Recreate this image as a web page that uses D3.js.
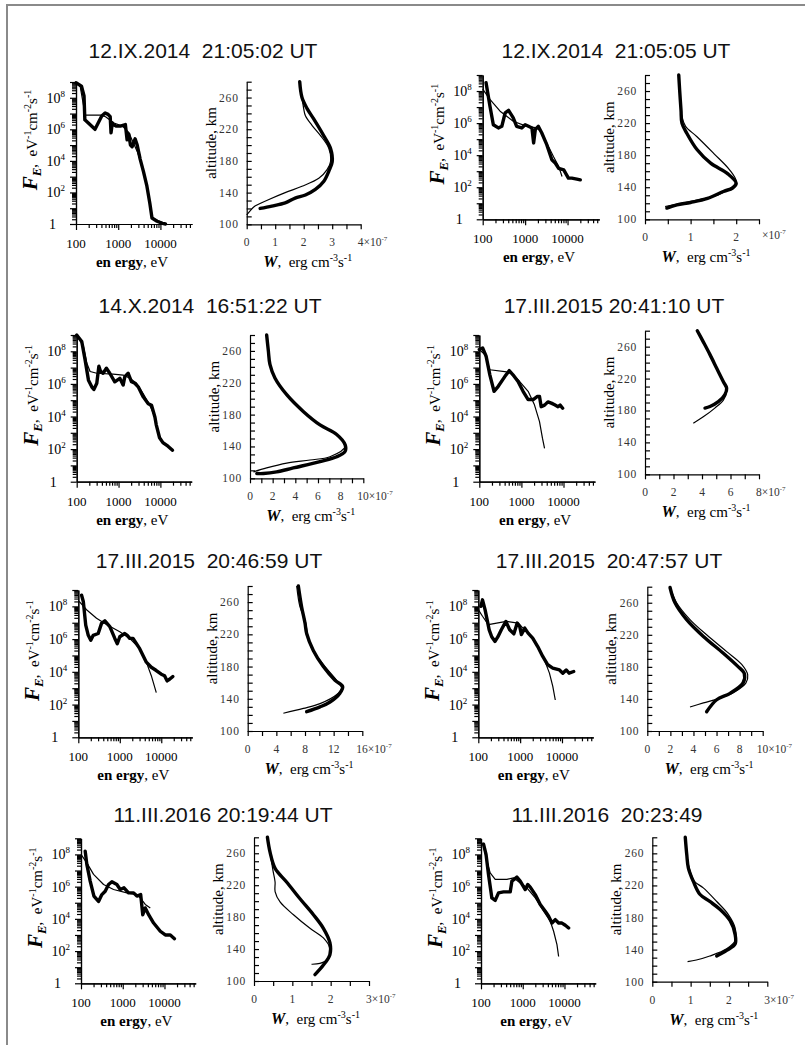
<!DOCTYPE html>
<html><head><meta charset="utf-8">
<script src="https://cdn.jsdelivr.net/npm/d3@7"></script>
<style>body{margin:0;background:#fff}svg{display:block}text{white-space:pre}</style>
</head><body>
<svg id="c" width="809" height="1061"></svg>
<script>
// ---------- DATA (energy eV, flux eV^-1 cm^-2 s^-1 ; W in 1e-7 erg cm^-3 s^-1, altitude km) ----------
const titles = ["12.IX.2014  21:05:02 UT","12.IX.2014  21:05:05 UT","14.X.2014  16:51:22 UT","17.III.2015 20:41:10 UT",
  "17.III.2015  20:46:59 UT","17.III.2015  20:47:57 UT","11.III.2016 20:19:44 UT","11.III.2016  20:23:49"];
const energyTickLabels = [100, 1000, 10000];
const fluxTickExponents = [0, 2, 4, 6, 8];
const altTickLabels = [100, 140, 180, 220, 260];
const wAxisMax = [4, 2.5, 10, 8, 16, 10, 3, 3];
const wTickStep = [0.5, 0.5, 1, 1, 2, 1, 0.5, 0.5];
const wLabelStep = [1, 1, 2, 2, 4, 2, 1, 1];

const spec1Thick = [[100,8.9e8],[135,5.5e8],[155,1.3e8],[162,4.0e6],[282,1.0e6],[407,6.9e6],[490,1.1e7],[575,8.9e6],[646,6.3e6],[676,6.0e5],[724,2.5e6],[776,2.0e6],[891,1.6e6],[1122,1.6e6],[1479,2.0e6],[1622,2.2e5],[1778,5.0e5],[1950,1.0e5],[2138,7.9e4],[2512,2.5e5],[2818,1.0e5],[3311,1.3e4],[3981,2.0e3],[4786,250],[5623,20],[6310,2.4],[8318,1.5],[11200,1.1],[13200,1]];
const spec1Thin = [[100,8.9e8],[126,5.0e8],[158,1.6e7],[166,7.9e6],[398,7.9e6],[501,6.3e6],[794,2.5e6],[1259,1.6e6],[1778,6.3e5],[2239,1.6e5],[2818,4.0e4],[3548,6.3e3],[4467,630],[5623,16],[6310,2.5],[8913,1.6],[13200,1]];
const alt1Thick = [[1.86,280],[1.94,260],[2.12,246],[2.35,233],[2.7,212],[2.94,196],[3.0,179],[2.88,167],[2.7,154],[2.41,144],[2.06,137],[1.7,133],[1.35,127],[0.88,123],[0.47,120]];
const alt1Thin = [[1.86,280],[1.94,260],[2.0,246],[2.06,237],[2.29,225],[2.59,212],[2.88,196],[2.94,179],[2.82,169],[2.53,158],[1.94,148],[1.35,140],[0.76,131],[0.29,123],[0.12,117],[0,112]];

const spec2Thick = [[120,3.3e8],[148,1.15e7],[178,7.9e5],[234,5.0e5],[282,6.3e5],[339,4.4e6],[407,6.3e6],[525,2.1e6],[631,6.3e5],[832,5.0e5],[1000,7.9e5],[1202,6.3e5],[1445,5.0e5],[1585,5.8e4],[1738,4.0e5],[2042,6.3e5],[2455,2.5e5],[3236,4.5e4],[4266,5.2e3],[5129,3.2e3],[6166,1.5e3],[8128,1.2e3],[10470,370],[12590,370],[16600,320],[19950,290]];
const spec2Thin = [[100,1.3e8],[148,3.0e7],[257,5.5e6],[525,1.3e6],[1096,6.3e5],[1905,5.0e5],[2455,2.5e5],[3236,5.8e4],[4677,7.9e3],[6166,2.0e3],[7413,470]];
const alt2Thick = [[0.74,280],[0.76,261],[0.79,236],[0.81,220],[0.92,207],[1.14,187],[1.44,170],[1.81,157],[2.0,145],[1.92,139],[1.73,135],[1.37,126],[1.0,121],[0.7,118],[0.48,114]];
const alt2Thin = [[0.74,280],[0.77,253],[0.81,228],[0.89,216],[1.14,203],[1.51,182],[1.85,162],[2.0,147],[1.88,139],[1.59,130],[1.14,124],[0.63,118],[0.44,116]];

const spec3Thick = [[100,1.0e9],[132,4.0e8],[158,3.2e7],[191,1.7e6],[229,6.6e5],[257,4.5e5],[302,1.1e6],[339,1.2e7],[372,5.8e6],[427,4.5e6],[513,9.1e6],[617,4.5e6],[813,1.35e6],[1072,2.2e6],[1288,8.5e5],[1413,2.8e6],[1698,4.5e6],[2042,1.35e6],[2455,1.1e6],[2951,6.6e5],[3890,1.6e5],[5129,6.0e4],[6166,4.8e4],[7413,8.9e3],[7943,3.2e3],[9550,500],[11480,250],[15140,150],[19500,85]];
const spec3Thin = [[100,1.0e9],[145,2.0e8],[174,1.9e7],[209,5.8e6],[302,4.5e6],[741,4.0e6],[1288,3.5e6],[1862,2.2e6],[2692,1.1e6],[3890,2.5e5],[5623,4.8e4],[7413,8.9e3],[7943,3.2e3]];
const alt3Thick = [[1.47,280],[1.62,260],[1.76,243],[2.2,226],[3.24,205],[4.7,184],[6.18,167],[7.65,155],[8.4,142],[8.4,134],[7.65,127],[6.18,121],[3.82,113],[2.35,108],[1.18,106],[0.6,106]];
const alt3Thin = [[1.47,280],[1.62,260],[1.76,243],[2.2,226],[3.24,205],[4.7,184],[6.18,167],[7.65,155],[8.4,140],[7.06,127],[5.3,123],[3.24,119],[1.47,113],[0.3,108]];

const spec4Thick = [[100,1.3e8],[120,1.6e8],[145,5.0e7],[178,3.6e6],[224,3.5e5],[282,7.1e5],[407,2.9e6],[513,6.5e6],[631,3.6e6],[832,1.4e6],[1096,3.5e5],[1445,1.1e5],[1905,1.1e5],[2399,1.7e5],[2692,1.7e5],[2951,4.0e4],[3548,5.0e4],[4266,7.9e4],[5129,6.6e4],[6166,5.2e4],[7413,4.0e4],[8318,5.0e4],[9550,3.2e4]];
const spec4Thin = [[100,1.3e8],[135,6.3e7],[178,7.4e6],[447,5.4e6],[575,4.7e6],[912,1.4e6],[1445,3.5e5],[2042,5.2e4],[2692,4.9e3],[3162,470],[3548,110]];
const alt4Thick = [[3.67,280],[4.09,266],[4.56,250],[5.03,233],[5.5,216],[5.73,208],[5.61,200],[5.15,191],[4.56,185],[4.21,183]];
const alt4Thin = [[3.67,280],[4.09,266],[4.56,250],[5.03,233],[5.61,212],[5.73,204],[5.5,193],[4.9,183],[4.09,172],[3.39,164]];

const spec5Thick = [[120,4.8e8],[132,2.0e8],[151,7.2e6],[174,1.7e6],[200,8.5e5],[229,1.7e6],[302,2.2e6],[363,9.1e6],[437,1.3e7],[575,5.8e6],[759,1.1e6],[871,5.2e5],[1000,1.4e6],[1318,2.2e6],[1514,1.7e6],[1738,1.1e6],[2089,1.1e6],[3020,2.6e5],[4365,3.9e4],[5754,1.9e4],[7586,1.2e4],[10000,7.2e3],[12020,5.8e3],[13800,2.8e3],[15850,3.5e3],[19050,5.2e3]];
const spec5Thin = [[105,2.0e8],[158,6.2e7],[275,1.9e7],[479,7.9e6],[1000,2.8e6],[1738,1.1e6],[3020,2.6e5],[4365,3.9e4],[5754,5.8e3],[7586,540]];
const alt5Thick = [[7.07,280],[7.53,254],[8.0,234],[8.23,221],[9.16,200],[10.56,180],[12.19,163],[13.26,155],[12.88,147],[11.49,136],[10.1,130],[8.23,124]];
const alt5Thin = [[6.84,280],[7.3,254],[8.0,238],[8.33,221],[8.47,213],[9.4,196],[10.8,180],[12.4,163],[13.1,153],[12.4,145],[10.1,134],[7.77,128],[4.98,122]];

const spec6Thick = [[115,1.0e8],[126,2.5e8],[145,6.3e7],[182,3.7e6],[209,1.4e6],[251,7.2e5],[295,1.4e6],[355,3.7e6],[457,1.2e7],[562,3.7e6],[708,2.1e6],[851,9.5e6],[977,6.0e6],[1072,1.9e6],[1288,4.7e6],[1549,2.3e6],[1995,1.15e6],[2630,3.5e5],[3467,8.7e4],[4571,2.7e4],[6026,1.7e4],[8710,1.3e4],[10470,8.3e3],[12590,1.3e4],[14790,8.3e3],[19050,1.05e4]];
const spec6Thin = [[100,6.3e7],[126,2.5e7],[174,7.6e6],[468,1.2e7],[891,9.5e6],[1288,3.7e6],[1995,1.15e6],[2884,2.2e5],[3802,5.4e4],[5012,8.3e3],[6026,1.3e3],[6918,190]];
const alt6Thick = [[1.97,279],[2.4,260],[3.41,239],[4.86,218],[6.59,197],[7.89,180],[8.4,172],[8.3,160],[7.17,147],[6.01,139],[5.14,124]];
const alt6Thin = [[1.97,279],[2.54,260],[3.7,239],[5.14,220],[6.88,199],[8.18,183],[8.7,170],[8.55,160],[7.6,149],[6.3,141],[4.86,135],[3.7,130]];

const spec7Thick = [[126,1.6e8],[138,2.4e7],[166,2.2e6],[204,2.6e5],[263,1.2e5],[316,3.2e5],[380,5.2e5],[457,1.35e6],[550,2.0e6],[724,1.35e6],[871,6.6e5],[1072,8.5e5],[1380,4.1e5],[1820,4.1e5],[2188,2.6e5],[2692,3.2e5],[3020,1.8e4],[3467,4.8e4],[4169,1.8e4],[5495,5.5e3],[7943,1.7e3],[10470,1.0e3],[13800,1.0e3],[17380,590]];
const spec7Thin = [[100,1.0e8],[138,3.0e7],[200,5.8e6],[347,1.35e6],[603,6.6e5],[1259,4.1e5],[2188,3.2e5],[2630,2.0e5],[3467,7.8e4],[4571,4.8e4]];
const alt7Thick = [[0.35,280],[0.42,261],[0.55,241],[0.85,224],[1.2,203],[1.55,183],[1.81,166],[1.98,148],[1.98,133],[1.81,120],[1.59,108]];
const alt7Thin = [[0.35,280],[0.42,261],[0.5,237],[0.55,224],[0.55,212],[0.68,199],[1.03,183],[1.46,166],[1.81,154],[1.98,141],[1.94,128],[1.72,122],[1.5,121]];

const spec8Thick = [[115,4.3e8],[132,1.0e8],[151,5.8e6],[182,2.0e5],[219,1.4e5],[263,4.1e5],[347,4.7e5],[501,4.7e5],[550,2.2e6],[724,3.9e6],[871,2.2e6],[1148,6.6e5],[1318,1.35e6],[1514,9.3e5],[1995,3.2e5],[2630,7.8e4],[3467,3.0e4],[4169,1.45e4],[5012,5.5e3],[6026,8.9e3],[7244,5.5e3],[8710,5.5e3],[10470,4.0e3],[12590,2.7e3]];
const spec8Thin = [[110,5.4e8],[138,3.9e7],[166,7.2e6],[219,2.8e6],[417,2.8e6],[603,3.5e6],[871,1.7e6],[1259,8.5e5],[1995,2.0e5],[3162,3.0e4],[4571,7.1e3],[5495,1.7e3],[6607,250],[7244,46]];
const alt8Thick = [[0.86,280],[0.9,258],[0.94,242],[1.07,225],[1.24,209],[1.5,200],[1.77,190],[2.03,176],[2.16,159],[2.16,147],[1.94,139],[1.68,132]];
const alt8Thin = [[0.86,280],[0.9,258],[0.96,242],[1.1,225],[1.33,217],[1.68,200],[1.98,184],[2.16,167],[2.16,151],[1.94,141],[1.5,132],[1.15,127],[0.92,125]];

const specThick = [spec1Thick,spec2Thick,spec3Thick,spec4Thick,spec5Thick,spec6Thick,spec7Thick,spec8Thick];
const specThin = [spec1Thin,spec2Thin,spec3Thin,spec4Thin,spec5Thin,spec6Thin,spec7Thin,spec8Thin];
const altThick = [alt1Thick,alt2Thick,alt3Thick,alt4Thick,alt5Thick,alt6Thick,alt7Thick,alt8Thick];
const altThin = [alt1Thin,alt2Thin,alt3Thin,alt4Thin,alt5Thin,alt6Thin,alt7Thin,alt8Thin];

// ---------- LAYOUT ----------
const layout = [
  {spec:[76,192,224,82], alt:[246.7,360.7,224.3,81.7], title:[203,58]},
  {spec:[482.7,599.3,219.3,75], alt:[645,759,219.3,75], title:[616,58]},
  {spec:[76.7,191.7,481.7,335], alt:[250,363.3,478.3,335], title:[210,313]},
  {spec:[479.3,595,481.7,335], alt:[645,759,474.3,330.7], title:[614,313]},
  {spec:[78.3,192.3,737.3,590], alt:[247.7,362.3,731,586], title:[209,568]},
  {spec:[478.3,593.3,737.3,590], alt:[647.3,762.7,731,586.7], title:[609,568]},
  {spec:[81,195.7,983.3,838.3], alt:[254,369,981,837.3], title:[223,822]},
  {spec:[481,595.7,983.3,838.3], alt:[652.3,767.3,981.7,837.3], title:[607,822]}
];
const SERIF = "'Liberation Serif','Times New Roman',serif";
const SANS = "'Liberation Sans',Arial,sans-serif";

const svg = d3.select('#c');
svg.append('path').attr('d','M7,1045V5H805').attr('fill','none').attr('stroke','#8a8a8a').attr('stroke-width',2);

function rich(sel, parts, base){
  let off = 0;
  parts.forEach(p=>{
    const want = p.sup ? -Math.round(base*0.42) : (p.sub ? Math.round(base*0.28) : 0);
    const ts = sel.append('tspan').text(p.t);
    if (want !== off) { ts.attr('dy', want-off); off = want; }
    ts.attr('font-size', p.size || ((p.sup||p.sub) ? Math.round(base*0.65) : base));
    if (p.bold) ts.attr('font-weight','bold');
    if (p.italic) ts.attr('font-style','italic');
  });
}
function styleAxis(g){
  g.selectAll('path,line').attr('stroke','#000').attr('stroke-width',1.2);
}

const energyMinor = [], fluxMinor = [], fluxMajor = [];
for (let n=2;n<=4;n++) for (let k=2;k<=9;k++) if (k*Math.pow(10,n) <= 56000) energyMinor.push(k*Math.pow(10,n));
for (let n=0;n<=9;n++) fluxMajor.push(Math.pow(10,n));
for (let n=0;n<=8;n++) for (let k=2;k<=9;k++) fluxMinor.push(k*Math.pow(10,n));

layout.forEach((L,i)=>{
  const g = svg.append('g');
  g.append('text').attr('x',L.title[0]).attr('y',L.title[1]).attr('text-anchor','middle')
    .attr('font-family',SANS).attr('font-size',21).attr('fill','#111').text(titles[i]);

  // ---- spectrum ----
  const [sx0,sx1,sy0,sy1] = L.spec;
  const x = d3.scaleLog().domain([100,56000]).range([sx0,sx1]);
  const y = d3.scaleLog().domain([1,1e9]).range([sy0,sy1]);
  const gx = g.append('g').attr('transform',`translate(0,${sy0})`);
  gx.call(d3.axisBottom(x).tickValues(energyMinor).tickSize(4).tickFormat('').tickSizeOuter(0));
  gx.call(g2=>g2.append('g').call(d3.axisBottom(x).tickValues(energyTickLabels).tickSize(6).tickFormat('').tickSizeOuter(0)));
  styleAxis(gx);
  const gy = g.append('g').attr('transform',`translate(${sx0},0)`);
  gy.call(d3.axisLeft(y).tickValues(fluxMinor).tickSize(4).tickFormat('').tickSizeOuter(0));
  gy.call(g2=>g2.append('g').call(d3.axisLeft(y).tickValues(fluxMajor).tickSize(6).tickFormat('').tickSizeOuter(0)));
  styleAxis(gy);
  energyTickLabels.forEach(v=>{
    g.append('text').attr('x',x(v)).attr('y',sy0+24).attr('text-anchor','middle')
      .attr('font-family',SERIF).attr('font-size',13).text(String(v));
  });
  fluxTickExponents.forEach(e=>{
    const t = g.append('text').attr('y',y(Math.pow(10,e))+5).attr('text-anchor','end')
      .attr('font-family',SERIF).attr('fill','#000');
    if (e===0){ t.attr('x',sx0-20).attr('font-size',14).text('1'); }
    else { t.attr('x',sx0-11); rich(t,[{t:'10'},{t:String(e),sup:true}],14); }
  });
  const el = g.append('text').attr('x',(sx0+sx1)/2-2).attr('y',sy0+43).attr('text-anchor','middle').attr('font-family',SERIF);
  rich(el,[{t:'en ergy',bold:true},{t:', eV'}],15);
  const fl = g.append('text').attr('transform',`translate(${sx0-39},${(sy0+sy1)/2-13}) rotate(-90)`)
    .attr('text-anchor','middle').attr('font-family',SERIF);
  rich(fl,[{t:'F',bold:true,italic:true,size:21},{t:'E',sub:true,bold:true,italic:true,size:13},{t:',  eV'},{t:'-1',sup:true},{t:'cm'},{t:'-2',sup:true},{t:'s'},{t:'-1',sup:true}],15);

  const specLine = d3.line().x(d=>x(d[0])).y(d=>y(Math.max(1,d[1])));
  g.append('path').attr('d',specLine(specThick[i])).attr('fill','none').attr('stroke','#000')
    .attr('stroke-width',3.4).attr('stroke-linejoin','round').attr('stroke-linecap','round');
  g.append('path').attr('d',specLine(specThin[i])).attr('fill','none').attr('stroke','#000')
    .attr('stroke-width',1.2).attr('stroke-linejoin','round');

  // ---- altitude profile ----
  const [ax0,ax1,ay0,ay1] = L.alt;
  const wMax = wAxisMax[i];
  const ax = d3.scaleLinear().domain([0,wMax]).range([ax0,ax1]);
  const ay = d3.scaleLinear().domain([100,280]).range([ay0,ay1]);
  const gax = g.append('g').attr('transform',`translate(0,${ay0})`);
  gax.call(d3.axisBottom(ax).tickValues(d3.range(0,wMax+1e-9,wTickStep[i])).tickSize(5).tickFormat('').tickSizeOuter(0));
  styleAxis(gax);
  const gay = g.append('g').attr('transform',`translate(${ax0},0)`);
  gay.call(d3.axisLeft(ay).tickValues(d3.range(100,281,10)).tickSize(-5).tickFormat('').tickSizeOuter(0));
  styleAxis(gay);
  altTickLabels.forEach(v=>{
    g.append('text').attr('x',ax0-8).attr('y',ay(v)+4).attr('text-anchor','end')
      .attr('font-family',SERIF).attr('font-size',11.5).attr('letter-spacing',0.8).attr('fill','#333').text(String(v));
  });
  const labs = d3.range(0,wMax+1e-9,wLabelStep[i]);
  let hasEnd = false;
  labs.forEach(v=>{
    if (Math.abs(v-wMax)<1e-9){
      hasEnd = true;
      const s = String(v);
      const t = g.append('text').attr('x',ax(v)-s.length*3).attr('y',ay0+22)
        .attr('font-family',SERIF).attr('fill','#333');
      rich(t,[{t:s+'×10'},{t:'-7',sup:true}],11.5);
    } else {
      g.append('text').attr('x',ax(v)).attr('y',ay0+22).attr('text-anchor','middle')
        .attr('font-family',SERIF).attr('font-size',11.5).attr('fill','#333').text(String(v));
    }
  });
  if (!hasEnd){
    const t = g.append('text').attr('x',ax1+3).attr('y',ay0+20).attr('font-family',SERIF).attr('fill','#333');
    rich(t,[{t:'×10'},{t:'-7',sup:true}],11.5);
  }
  const wl = g.append('text').attr('x',(ax0+ax1)/2+4).attr('y',ay0+43).attr('text-anchor','middle').attr('font-family',SERIF);
  rich(wl,[{t:'W',bold:true,italic:true,size:16},{t:',  erg cm'},{t:'-3',sup:true},{t:'s'},{t:'-1',sup:true}],15);
  g.append('text').attr('transform',`translate(${ax0-31},${(ay0+ay1)/2-10}) rotate(-90)`)
    .attr('text-anchor','middle').attr('font-family',SERIF).attr('font-size',15).text('altitude, km');

  const altLine = d3.line().x(d=>ax(d[0])).y(d=>ay(d[1])).curve(d3.curveCatmullRom.alpha(0.5));
  g.append('path').attr('d',altLine(altThick[i])).attr('fill','none').attr('stroke','#000')
    .attr('stroke-width',3.4).attr('stroke-linejoin','round').attr('stroke-linecap','round');
  g.append('path').attr('d',altLine(altThin[i])).attr('fill','none').attr('stroke','#000')
    .attr('stroke-width',1.2);
});
</script>
</body></html>
